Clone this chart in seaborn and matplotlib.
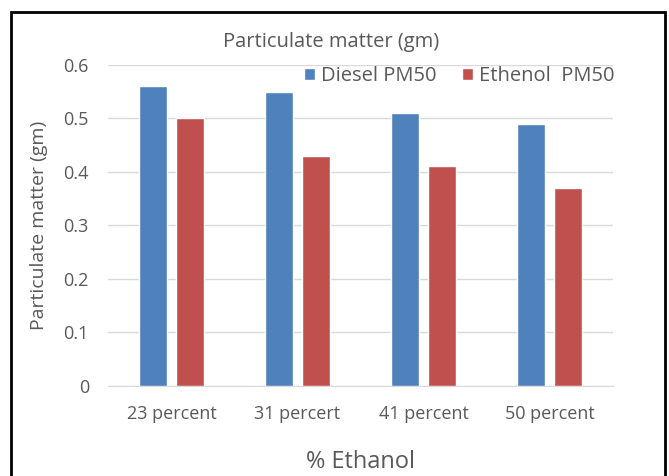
import matplotlib.pyplot as plt
import matplotlib.patches as mpatches
import pandas as pd
import seaborn as sns

# chart values
categories = ['23 percent', '31 percert', '41 percent', '50 percent']
diesel_pm50 = [0.56, 0.55, 0.51, 0.49]
ethenol_pm50 = [0.50, 0.43, 0.41, 0.37]
series_names = ['Diesel PM50', 'Ethenol  PM50']

data = pd.DataFrame({
    'category': categories * 2,
    'value': diesel_pm50 + ethenol_pm50,
    'series': [series_names[0]] * len(categories) + [series_names[1]] * len(categories),
})

sns.set_style('white')
plt.rcParams['font.family'] = ['Open Sans', 'DejaVu Sans']
grey = '#595959'

fig = plt.figure(figsize=(6.69, 4.76), dpi=100)
ax = fig.add_axes([0.162, 0.189, 0.754, 0.675])

sns.barplot(data=data, x='category', y='value', hue='series',
            palette=['#4F81BD', '#C0504D'], saturation=1, width=0.587, gap=0.243,
            ax=ax, legend=True, zorder=3)

ax.set_ylim(0, 0.6)
ax.set_xlim(-0.5, 3.5)
ax.set_yticks([0, 0.1, 0.2, 0.3, 0.4, 0.5, 0.6])
ax.set_yticklabels(['0', '0.1', '0.2', '0.3', '0.4', '0.5', '0.6'])
ax.yaxis.grid(True, color='#D9D9D9', linewidth=1)
ax.set_axisbelow(True)
for side in ['top', 'right', 'left']:
    ax.spines[side].set_visible(False)
ax.spines['bottom'].set_color('#D9D9D9')
ax.tick_params(axis='both', length=0, colors=grey, labelsize=13)
ax.tick_params(axis='y', pad=14)
ax.tick_params(axis='x', pad=14)

ax.set_xlabel('% Ethanol', fontsize=17, color=grey, labelpad=19)
ax.set_ylabel('Particulate matter (gm)', fontsize=14, color=grey, labelpad=11)
fig.text(0.495, 1 - 42 / 476, 'Particulate matter (gm)', fontsize=14.5, color=grey,
         ha='center', va='center')

ax.legend(loc='center right', bbox_to_anchor=(615 / 669, 1 - 76 / 476),
          bbox_transform=fig.transFigure, ncol=2, frameon=False,
          fontsize=14.5, labelcolor=grey, handlelength=0.55, handleheight=0.55,
          handletextpad=0.3, columnspacing=1.3, borderaxespad=0.0, borderpad=0.0)

# black frame around the chart
fig.patches.append(mpatches.Rectangle((0.016, -0.01), 0.978, 0.985, transform=fig.transFigure,
                                      fill=False, edgecolor='black', linewidth=2))

fig.savefig('out.png', dpi=100)
